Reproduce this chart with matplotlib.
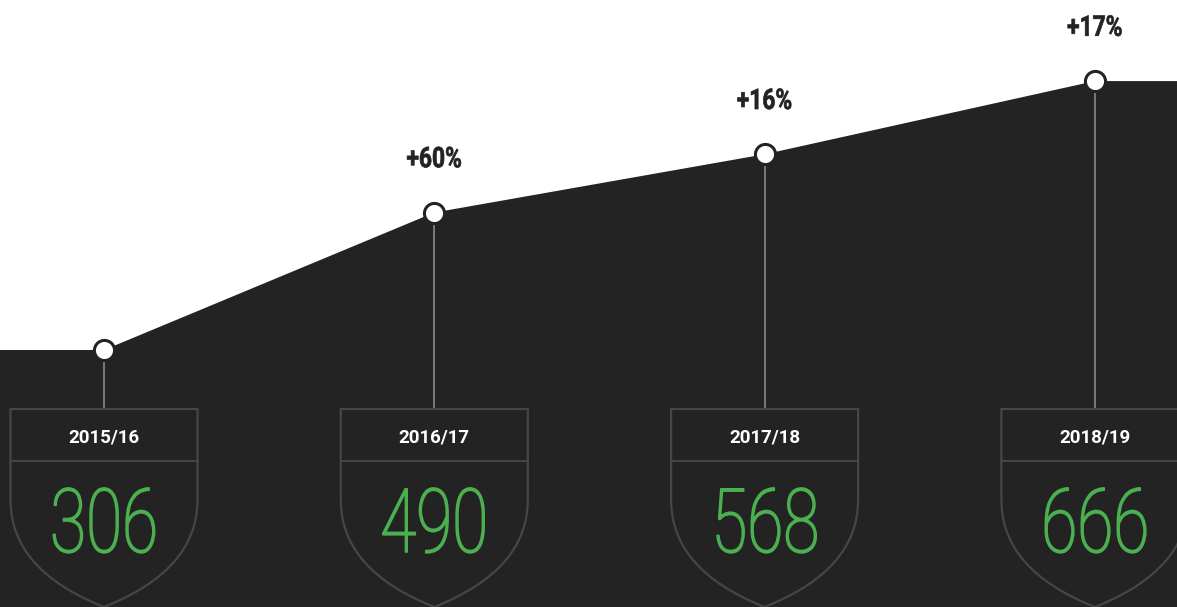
import matplotlib
matplotlib.use("Agg")
import matplotlib.pyplot as plt
from matplotlib.path import Path
from matplotlib.patches import PathPatch
from matplotlib.patheffects import AbstractPathEffect
from matplotlib.transforms import Affine2D, blended_transform_factory

# ---- data ----
seasons = ["2015/16", "2016/17", "2017/18", "2018/19"]
values = [306, 490, 568, 666]
growth_labels = ["", "+60%", "+16%", "+17%"]

# ---- style ----
DARK = "#232323"
GREEN = "#4caf50"
EDGE = "#464646"
STEM = "#8a8a8a"
W, H = 1177, 607


class HScale(AbstractPathEffect):
    """Squeeze a text line horizontally around its own centre, optionally thickening it."""
    def __init__(self, sx, stroke=0.0):
        super().__init__()
        self.sx = sx
        self.stroke = stroke

    def draw_path(self, renderer, gc, tpath, affine, rgbFace=None):
        bb = tpath.get_extents(affine)
        cx = 0.5 * (bb.x0 + bb.x1)
        aff = affine + Affine2D().translate(-cx, 0).scale(self.sx, 1).translate(cx, 0)
        gc2 = renderer.new_gc()
        gc2.copy_properties(gc)
        if self.stroke > 0 and rgbFace is not None:
            gc2.set_linewidth(self.stroke)
            gc2.set_foreground(rgbFace)
            gc2.set_joinstyle("round")
        renderer.draw_path(gc2, tpath, aff, rgbFace)
        gc2.restore()


fig = plt.figure(figsize=(W / 100, H / 100), dpi=100)
fig.patch.set_facecolor("white")
ax = fig.add_axes([0, 0, 1, 1])
ax.axis("off")

# scales: category index -> x, value -> y
x0_px, step_px = 104, 330.3
xmin = -x0_px / step_px
xmax = (W - x0_px) / step_px
ppu = 0.747  # pixels per unit value
ymin = values[0] - (H - 350) / ppu
ymax = values[0] + 350 / ppu
ax.set_xlim(xmin, xmax)
ax.set_ylim(ymin, ymax)

idx = list(range(len(values)))
xs = [xmin] + idx + [xmax]
ys = [values[0]] + values + [values[-1]]
ax.fill_between(xs, ys, ymin, color=DARK, lw=0, zorder=1)

# blended transform: x in data, y in axes fraction
bt = blended_transform_factory(ax.transData, ax.transAxes)


def fy(py):
    return 1 - py / H


half_w = 93.5 / step_px
for i, (s, v, g) in enumerate(zip(seasons, values, growth_labels)):
    # stem
    stem_top = ax.transLimits.transform((i, v))[1]
    ax.plot([i, i], [fy(409), stem_top], transform=bt, color=STEM, lw=1.2, zorder=2)
    # shield
    l, r = i - half_w, i + half_w
    verts = [(l, fy(409)), (r, fy(409)), (r, fy(500)), (r, fy(570)), (i, fy(607)),
             (l, fy(570)), (l, fy(500)), (l, fy(409))]
    codes = [Path.MOVETO, Path.LINETO, Path.LINETO, Path.CURVE3, Path.CURVE3,
             Path.CURVE3, Path.CURVE3, Path.CLOSEPOLY]
    ax.add_patch(PathPatch(Path(verts, codes), transform=bt, facecolor=DARK,
                           edgecolor=EDGE, lw=1.6, zorder=3, clip_on=False))
    ax.plot([l, r], [fy(461), fy(461)], transform=bt, color=EDGE, lw=1.4, zorder=4)
    # texts
    ax.text(i, fy(443), s, transform=bt, ha="center", va="baseline", color="white",
            fontsize=13.5, fontweight="bold", family="Roboto", zorder=5)
    ax.text(i, fy(552), f"{v}", transform=bt, ha="center", va="baseline", color=GREEN,
            fontsize=64, fontweight="light", family="Roboto", zorder=5,
            path_effects=[HScale(0.74, stroke=1.2)])
    if g:
        ax.annotate(g, (i, v), xytext=(0, 38), textcoords="offset points",
                    ha="center", va="center", color="#222222", fontsize=20.5,
                    fontweight="bold", family="Roboto", zorder=5,
                    path_effects=[HScale(0.8, stroke=0.5)])

# markers
ax.plot(idx, values, ls="none", marker="o", ms=14.5, mfc="white", mec=DARK,
        mew=2.2, zorder=6)

fig.savefig("out.png", dpi=100, facecolor="white")
